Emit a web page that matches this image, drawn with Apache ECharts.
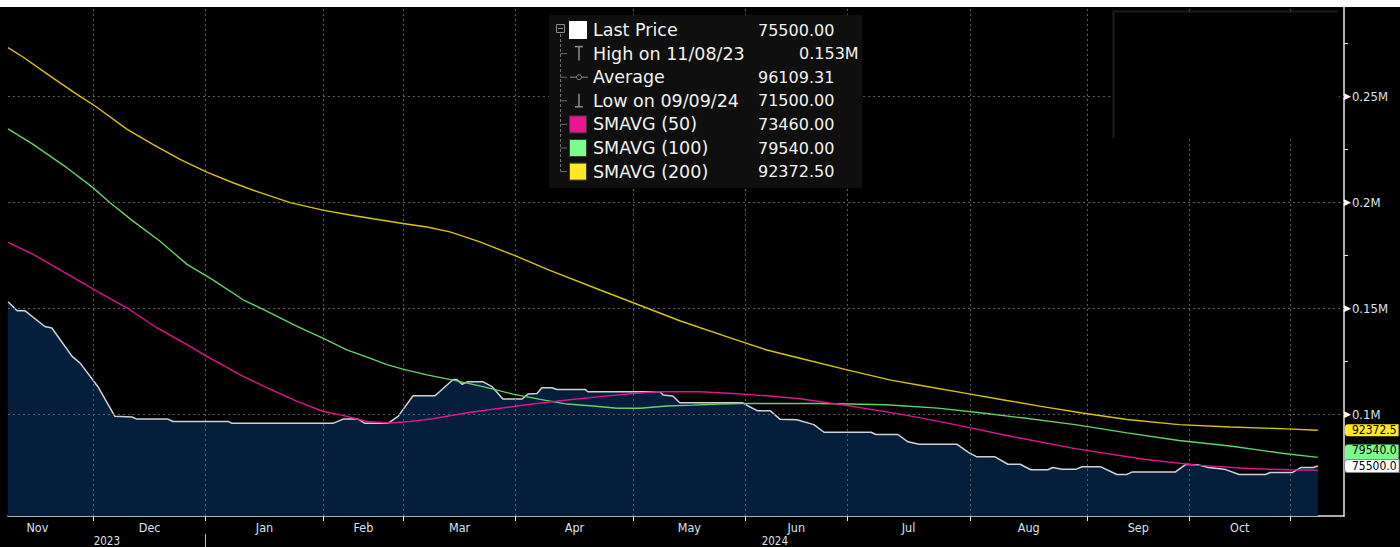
<!DOCTYPE html>
<html><head><meta charset="utf-8">
<script src="https://cdn.jsdelivr.net/npm/echarts@6/dist/echarts.min.js"></script>
<style>html,body{margin:0;padding:0;background:#000;overflow:hidden}#c{width:1400px;height:547px}</style>
</head><body><div id="c"></div>
<script>
// ---- axis definitions (x = trading-day index from first observation, 11/08/23) ----
const monthNames = ['Nov','Dec','Jan','Feb','Mar','Apr','May','Jun','Jul','Aug','Sep','Oct'];
const monthStartDay = [-5,16,37,59,74,95,117,138,157,180,202,221,240];
const yearNames = ['2023','2024'];
const yearBoundDay = [0,37,250];
const xMin = 0, xMax = 250;
const yMin = 51900, yMax = 292000;
const yLabelValues = [100000,150000,200000,250000];
const yMinorTicks = [75000,125000,175000,225000,275000];

// ---- Last Price ----
const priceDay = [0,1.7,3.2,6.9,8.2,12.0,13.5,16.8,20.0,23.2,24.1,29.9,30.9,41.2,41.9,60.8,62.7,65.5,66.8,71.1,73.0,75.8,79.9,83.3,84.0,85.0,85.9,88.9,90.6,92.6,96.2,97.3,99.0,99.9,101.8,102.7,108.0,108.5,122.0,122.6,124.4,125.7,137.5,138.5,140.2,142.6,144.5,147.6,150.8,152.7,161.5,162.4,166.5,168.4,170.5,177.6,179.8,181.3,184.7,187.1,189.4,191.4,194.6,195.5,197.2,199.9,201.0,204.5,207.5,209.4,210.3,218.4,220.4,222.9,224.6,227.6,230.4,235.3,236.2,240.3,242.0,244.2,245.1];
const priceValue = [153000,148700,148700,141300,140600,127200,124000,113000,98900,98600,97600,97600,96500,96500,95600,95600,97600,97600,95600,95600,98900,108600,108600,116300,116300,114000,115200,115200,112900,107100,107100,109400,109700,112400,112400,111600,111600,110500,110500,109000,108500,105300,105300,103800,101600,101600,97500,97300,95000,91400,91400,90350,90350,86900,85700,85700,81800,79800,79800,76300,76300,73700,73700,74800,74000,74000,75100,75100,71500,71500,72600,72600,76300,75900,74800,74000,71500,71500,72400,72400,74800,74800,75500];

// ---- SMAVG (200) ----
const sma200Day = [0,2.8,7.9,12.9,16.3,22.3,27.1,32.2,37.2,42.1,47.2,52.8,58.9,64.0,68.3,73.9,78.4,82.7,88.3,95.1,101.4,110.8,117.0,125.7,136.4,142.0,148.2,157.0,165.2,171.4,178.5,186.9,193.3,201.0,209.4,219.1,228.7,239.3,245.1];
const sma200Value = [272800,268400,259400,250800,245300,234300,227200,220100,214100,209100,204400,199700,196200,193900,192100,189900,188200,185900,181200,174500,167800,158500,152500,144000,134900,130200,126300,120800,116000,113200,110100,106400,103600,100500,97400,95000,93900,93000,92372.5];

// ---- SMAVG (100) ----
const sma100Day = [0,4.7,11.0,15.9,19.1,23.4,28.4,33.5,38.2,44.0,48.5,54.1,58.9,63.4,67.7,70.9,73.9,78.4,83.3,88.9,94.5,99.6,104.6,109.5,114.0,118.3,123.3,128.2,133.2,137.5,145.0,151.4,157.6,164.3,174.0,182.3,190.1,199.7,209.4,219.1,228.7,238.4,245.1];
const sma100Value = [234500,227200,216200,206800,199700,191000,181600,170600,163500,153900,148400,141300,135800,130300,126400,123300,121200,118500,116000,112900,109400,106900,104700,103800,102700,102700,103800,104200,104700,105000,105000,105000,104700,104400,102800,100500,98100,95000,91100,87500,84900,81500,79540];

// ---- SMAVG (50) ----
const sma50Day = [0,4.7,12.9,17.2,22.3,27.9,33.5,37.2,44.0,48.5,54.1,58.9,63.4,67.2,71.5,75.2,79.5,85.9,92.1,98.2,104.6,110.8,117.0,121.4,129.5,135.7,142.0,148.2,157.0,167.5,177.2,186.9,199.7,212.6,222.3,232.0,239.7,245.1];
const sma50Value = [181000,175300,163400,157100,150000,140600,132700,127200,117800,112300,106000,101300,98900,96500,95800,96500,97800,100600,102700,104700,106600,108200,109700,110500,110500,109700,108600,107200,104000,99700,95000,89900,83700,78700,75900,74300,73700,73460];

// ---- legend & last-value tags ----
const legendLabels = ['Last Price','High on 11/08/23','Average','Low on 09/09/24','SMAVG (50)','SMAVG (100)','SMAVG (200)'];
const legendValues = ['75500.00','0.153M','96109.31','71500.00','73460.00','79540.00','92372.50'];
const tagValues = [73460, 79540, 92372.5, 75500];
const tagTexts = [' ','79540.0','92372.5','75500.0'];   // the SMAVG(50) tag lies under the Last Price tag

const C_PRICE = '#d2d2d2', C_AREA = '#041e3b', C_50 = '#e0148e', C_100 = '#5fd46c', C_200 = '#d8c400';
const tagStyles = ['m','g','y','w'];
const FONT = 'DejaVu Sans Condensed, DejaVu Sans, sans-serif';

const pairs = (d, v) => d.map((x, i) => [x, v[i]]);
const monthLabelDay = monthNames.map((_, i) => (monthStartDay[i] + monthStartDay[i + 1]) / 2);
const yearLabelDay = yearNames.map((_, i) => (yearBoundDay[i] + yearBoundDay[i + 1]) / 2);

// legend graphic
const LX = 549, LY = 15, ROW0 = 30, ROWH = 23.6;
const g = [];
g.push({type:'rect', shape:{x:0,y:0,width:1400,height:7}, style:{fill:'#ffffff'}, z:100});
g.push({type:'rect', shape:{x:1113,y:11,width:226,height:128}, style:{fill:'#000'}, z:100});
g.push({type:'polyline', shape:{points:[[1113.5,138],[1113.5,11.5],[1338,11.5]]}, style:{stroke:'#1c1c1c', lineWidth:2, fill:null}, z:101});
g.push({type:'rect', shape:{x:LX,y:LY,width:313,height:173}, style:{fill:'#0f0f0f'}, z:100});
g.push({type:'rect', shape:{x:556.5,y:24.5,width:8,height:8}, style:{stroke:'#8a8a8a', fill:null, lineWidth:1}, z:101});
g.push({type:'line', shape:{x1:558,y1:28.5,x2:563,y2:28.5}, style:{stroke:'#8a8a8a', lineWidth:1}, z:101});
g.push({type:'line', shape:{x1:560.5,y1:34,x2:560.5,y2:ROW0+6*ROWH}, style:{stroke:'#6a6a6a', lineWidth:1, lineDash:[3,2]}, z:101});
legendLabels.forEach((lab, i) => {
  const cy = ROW0 + i * ROWH;
  if (i > 0) g.push({type:'line', shape:{x1:560.5,y1:cy,x2:567,y2:cy}, style:{stroke:'#6a6a6a', lineWidth:1}, z:101});
  if (i === 0) g.push({type:'rect', shape:{x:569,y:cy-9,width:18,height:18}, style:{fill:'#ffffff'}, z:101});
  if (i === 1) {
    g.push({type:'line', shape:{x1:579,y1:cy-7,x2:579,y2:cy+7}, style:{stroke:'#8c8c8c', lineWidth:1.5}, z:101});
    g.push({type:'line', shape:{x1:575,y1:cy-7,x2:583,y2:cy-7}, style:{stroke:'#8c8c8c', lineWidth:1.5}, z:101});
  }
  if (i === 2) {
    g.push({type:'line', shape:{x1:570,y1:cy,x2:588,y2:cy}, style:{stroke:'#8c8c8c', lineWidth:1}, z:101});
    g.push({type:'circle', shape:{cx:579,cy:cy,r:2.5}, style:{stroke:'#8c8c8c', fill:'#0f0f0f', lineWidth:1}, z:102});
  }
  if (i === 3) {
    g.push({type:'line', shape:{x1:579,y1:cy-7,x2:579,y2:cy+6}, style:{stroke:'#8c8c8c', lineWidth:1.5}, z:101});
    g.push({type:'line', shape:{x1:575,y1:cy+6,x2:583,y2:cy+6}, style:{stroke:'#8c8c8c', lineWidth:1.5}, z:101});
  }
  if (i >= 4) {
    const col = ['#ea1592','#7cfc8a','#ffe927'][i - 4];
    g.push({type:'rect', shape:{x:569.5,y:cy-8.5,width:17,height:17}, style:{fill:col, stroke:'#3a3a3a', lineWidth:1}, z:101});
  }
  g.push({type:'text', x:593, y:cy, style:{text:lab, fill:'#f2f2f2', font:'17.5px DejaVu Sans, sans-serif', textVerticalAlign:'middle'}, z:102});
  g.push({type:'text', x:(i === 1 ? 799 : 758), y:cy, style:{text:legendValues[i], fill:'#f2f2f2', font:'16px DejaVu Sans, sans-serif', textVerticalAlign:'middle'}, z:102});
});

const gridStyle = {color:'#5c5c5c', type:[2,3], width:1};
const tagBase = {color:'#000', fontSize:12, fontFamily:FONT, lineHeight:15, padding:[0,2,0,7], borderRadius:[3,0,0,3]};
const option = {
  backgroundColor:'#000',
  animation:false,
  grid:{left:8, right:56, top:7, bottom:31, containLabel:false, outerBoundsMode:'none'},
  xAxis:[{
    type:'value', min:xMin, max:xMax, position:'bottom',
    axisLine:{show:true, onZero:false, lineStyle:{color:'#e6e6e6', width:1.5}},
    axisTick:{show:true, customValues:monthStartDay.slice(1), length:5, lineStyle:{color:'#e6e6e6'}},
    axisLabel:{customValues:monthLabelDay, formatter:v => monthNames[monthLabelDay.indexOf(v)], color:'#d9e3ee', fontSize:12.5, fontFamily:FONT, margin:5},
    splitLine:{show:false}
  },{
    type:'value', min:xMin, max:xMax, position:'bottom', offset:18,
    axisLine:{show:false},
    axisTick:{show:true, customValues:[yearBoundDay[1]], length:14, lineStyle:{color:'#bdbdbd'}},
    axisLabel:{customValues:yearLabelDay, formatter:v => yearNames[yearLabelDay.indexOf(v)], color:'#d9e3ee', fontSize:11.5, fontFamily:FONT, margin:1},
    splitLine:{show:false}
  }],
  yAxis:[{
    type:'value', min:yMin, max:yMax, position:'right',
    axisLine:{show:true, onZero:false, lineStyle:{color:'#e6e6e6', width:1.5}},
    axisTick:{show:true, customValues:yMinorTicks, length:4, lineStyle:{color:'#e6e6e6'}},
    axisLabel:{customValues:yLabelValues, margin:0, formatter:v => '{a|▶}{b|' + (v / 1e6) + 'M}',
      rich:{a:{color:'#ffffff', fontSize:9, fontFamily:'DejaVu Sans', padding:[0,1,0,0]}, b:{color:'#d9e3ee', fontSize:13, fontFamily:FONT}}},
    splitLine:{show:false}
  },{
    type:'value', min:yMin, max:yMax, position:'right',
    axisLine:{show:false}, axisTick:{show:false}, splitLine:{show:false},
    axisLabel:{customValues:tagValues, margin:1, formatter:v => '{' + tagStyles[tagValues.indexOf(v)] + '|' + tagTexts[tagValues.indexOf(v)] + '}',
      rich:{
        m:Object.assign({}, tagBase, {backgroundColor:'#e0148e', width:46}),
        g:Object.assign({}, tagBase, {backgroundColor:'#7cfc8a', lineHeight:14, padding:[0,2,14,7]}),
        y:Object.assign({}, tagBase, {backgroundColor:'#ffe927'}),
        w:Object.assign({}, tagBase, {backgroundColor:'#ffffff', borderColor:'#8a8a8a', borderWidth:1})
      }}
  }],
  series:[
    {name:'Last Price', type:'line', data:pairs(priceDay, priceValue), symbol:'none',
     lineStyle:{color:C_PRICE, width:1.5}, areaStyle:{color:C_AREA, origin:'start', opacity:1}, z:2,
     markLine:{silent:true, symbol:'none', label:{show:false}, lineStyle:gridStyle, z:3,
       data:[...monthStartDay.slice(1).map(d => ({xAxis:d})), ...yLabelValues.map(v => ({yAxis:v}))]}},
    {name:'SMAVG (200)', type:'line', data:pairs(sma200Day, sma200Value), symbol:'none', lineStyle:{color:C_200, width:1.4}, z:4},
    {name:'SMAVG (100)', type:'line', data:pairs(sma100Day, sma100Value), symbol:'none', lineStyle:{color:C_100, width:1.4}, z:4},
    {name:'SMAVG (50)', type:'line', data:pairs(sma50Day, sma50Value), symbol:'none', lineStyle:{color:C_50, width:1.4}, z:4}
  ],
  graphic:g
};
const chart = echarts.init(document.getElementById('c'), null, {renderer:'svg'});
chart.setOption(option);
</script></body></html>
